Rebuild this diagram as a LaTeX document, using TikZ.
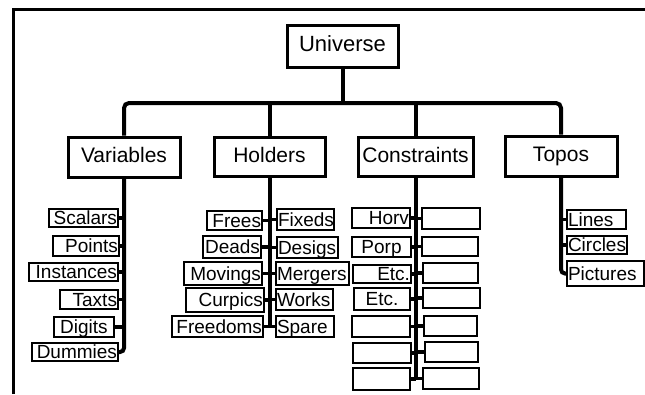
\documentclass[tikz,border=0pt]{standalone}
\usepackage{fontspec}
\setmainfont{Liberation Sans}

% leaf box: name, left, top, right, bottom, text, alignment
\newcommand\leafnode[7]{%
  \pgfmathsetmacro\lfw{#4-#2-2}%
  \pgfmathsetmacro\lfh{#5-#3}%
  \node[leafbox, text width=\lfw pt, minimum height=\lfh pt, align=#7]
    (#1) at ({(#2+#4)/2},{(#3+#5)/2}) {#6};}

% category box: name, left, top, right, bottom, text
\newcommand\catnode[6]{%
  \pgfmathsetmacro\cfw{#4-#2}%
  \pgfmathsetmacro\cfh{#5-#3}%
  \node[catbox, minimum width=\cfw pt, minimum height=\cfh pt]
    (#1) at ({(#2+#4)/2},{(#3+#5)/2}) {#6};}

\begin{document}
\begin{tikzpicture}[x=1pt,y=-1pt,
  conn/.style={line width=4pt, draw=black},
  stub/.style={line width=3.5pt, draw=black},
  catbox/.style={draw, line width=3pt, inner sep=0pt,
    font=\fontsize{21}{21}\selectfont, text height=15.5pt, text depth=4pt},
  leafbox/.style={draw, line width=1.6pt, inner xsep=1pt, inner ysep=0pt,
    font=\fontsize{19}{19}\selectfont, text height=15.5pt, text depth=2.5pt},
  frame/.style={line width=3pt}]
\useasboundingbox (0,0) rectangle (645,394);

% page frame (top and left edges)
\draw[frame] (13,394) -- (13,9.5) -- (645,9.5);

% top level
\node[catbox, minimum width=111pt, minimum height=42pt,
  font=\fontsize{22}{22}\selectfont] (uni) at (342.5,46) {Universe};

% categories
\catnode{var}{68}{137}{180}{177}{Variables}
\catnode{hol}{214}{137}{325}{176}{Holders}
\catnode{con}{358}{137}{473}{176}{Constraints}
\catnode{top}{505}{136}{617}{176}{Topos}

% variables
\leafnode{sca}{49}{209}{118}{227}{Scalars}{right}
\leafnode{pts}{53}{236}{119}{256}{Points}{right}
\leafnode{ins}{29}{263}{118}{281}{Instances}{right}
\leafnode{tax}{60}{290}{118}{309}{Taxts}{right}
\leafnode{dig}{54}{317}{114}{337}{Digits}{center}
\leafnode{dum}{32}{343}{118}{361}{Dummies}{right}

% holders
\leafnode{fre}{207}{211}{262}{230}{Frees}{right}
\leafnode{dea}{203}{236}{261}{258}{Deads}{right}
\leafnode{mov}{184}{262}{262}{285}{Movings}{right}
\leafnode{cur}{186}{288}{264}{312}{Curpics}{right}
\leafnode{fdm}{172}{316}{263}{337}{Freedoms}{right}
\leafnode{fix}{277}{209}{334}{230}{Fixeds}{left}
\leafnode{des}{277}{237}{338}{258}{Desigs}{left}
\leafnode{mer}{276}{262}{349}{285}{Mergers}{left}
\leafnode{wor}{276}{289}{333}{310}{Works}{left}
\leafnode{spa}{276}{316}{334}{337}{Spare}{left}

% constraints
\leafnode{ca}{352}{208}{410}{228}{Horv}{right}
\leafnode{cb}{352}{237}{411}{257}{Porp}{center}
\leafnode{cc}{353}{265}{411}{283}{Etc.}{right}
\leafnode{cd}{354}{288}{410}{310}{Etc.}{center}
\leafnode{ce}{352}{316}{410}{337}{}{center}
\leafnode{cf}{353}{343}{411}{363}{}{center}
\leafnode{cg}{353}{368}{410}{390}{}{center}
\leafnode{da}{422}{208}{480}{229}{}{center}
\leafnode{db}{422}{237}{478}{256}{}{center}
\leafnode{dc}{423}{263}{478}{283}{}{center}
\leafnode{dd}{423}{288}{480}{308}{}{center}
\leafnode{de}{424}{316}{477}{336}{}{center}
\leafnode{df}{425}{342}{478}{362}{}{center}
\leafnode{dg}{423}{368}{479}{389}{}{center}

% topos
\leafnode{lin}{567}{210}{626}{229}{Lines}{left}
\leafnode{cir}{567}{236}{627}{254}{Circles}{left}
\leafnode{pic}{567}{261}{644}{286}{Pictures}{left}

% trunk and branch bar
\coordinate (bar) at (342.5,103);
\draw[conn] (uni.south) -- (uni.south |- bar);
\draw[conn, rounded corners=5pt] (var.north) -- (var.north |- bar)
  -- (top.north |- bar) -- (top.north);
\draw[conn] (hol.north) -- (hol.north |- bar);
\draw[conn] (con.north) -- (con.north |- bar);

% variables spine
\draw[conn, rounded corners=4pt] (var.south) |- (dum.east);
\foreach \l in {sca,pts,ins,tax,dig}
  \draw[stub] (var.south |- \l.east) -- (\l.east);

% holders spine
\draw[conn] (hol.south) -- (hol.south |- fdm.east);
\foreach \l in {fre,dea,mov,cur,fdm}
  \draw[stub] (hol.south |- \l.east) -- (\l.east);
\foreach \l in {fix,des,mer,wor,spa}
  \draw[stub] (hol.south |- \l.west) -- (\l.west);

% constraints spine
\draw[conn] (con.south) -- (con.south |- cg.east);
\foreach \l in {ca,cb,cc,cd,ce,cf,cg}
  \draw[stub] (con.south |- \l.east) -- (\l.east);
\foreach \l in {da,db,dc,dd,de,df,dg}
  \draw[stub] (con.south |- \l.west) -- (\l.west);

% topos spine
\draw[conn, rounded corners=4pt] (top.south) |- (pic.west);
\foreach \l in {lin,cir}
  \draw[stub] (top.south |- \l.west) -- (\l.west);
\end{tikzpicture}
\end{document}
